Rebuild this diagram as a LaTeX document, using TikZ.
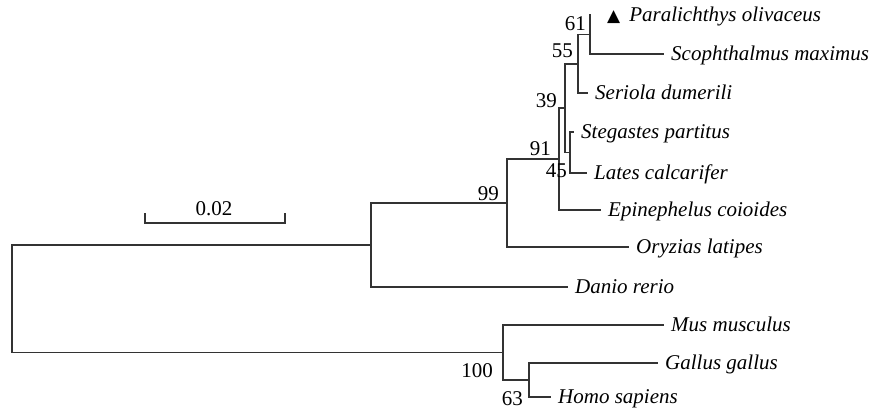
\documentclass[tikz,border=0pt]{standalone}
\usepackage{fontspec}
\setmainfont{Liberation Serif}
\newfontfamily\symfont{DejaVu Sans}
\usepackage{tikz}
\usetikzlibrary{positioning}
\tikzset{
    leaf/.style = {anchor=west, inner xsep=8bp, inner ysep=0pt,
                 text height=15bp, text depth=3bp,
                 font=\fontsize{21bp}{25bp}\selectfont\itshape},
    boot/.style = {anchor=base east, inner sep=0pt,
                 font=\fontsize{21bp}{25bp}\selectfont},
    branch/.style = {draw=black!80, line width=1.2bp, line cap=rect},
}

\begin{document}
\begin{tikzpicture}[x=1bp,y=-1bp]
\useasboundingbox (0,0) rectangle (875,414);
\coordinate (root) at (12,299);
\coordinate (nfi)  at (371,245);
\coordinate (n99)  at (507,203);
\coordinate (n91)  at (559,159);
\coordinate (n39)  at (565,108);
\coordinate (n55)  at (578,64);
\coordinate (n61)  at (590,34.5);
\coordinate (n45)  at (570,152.5);
\coordinate (n100) at (503,352.5);
\coordinate (n63)  at (529,380);
\node (par) [leaf,inner xsep=17bp] at (590,15) {{\symfont\upshape\fontsize{17bp}{17bp}\selectfont ▲}\hspace{9bp}Paralichthys olivaceus};
\node (sco) [leaf] at (663,54)  {Scophthalmus maximus};
\node (ser) [leaf] at (587,93)  {Seriola dumerili};
\node (ste) [leaf] at (573,132) {Stegastes partitus};
\node (lat) [leaf] at (586,173) {Lates calcarifer};
\node (epi) [leaf] at (600,210) {Epinephelus coioides};
\node (ory) [leaf] at (628,247) {Oryzias latipes};
\node (dan) [leaf] at (567,287) {Danio rerio};
\node (mus) [leaf] at (663,325) {Mus musculus};
\node (gal) [leaf] at (657,363) {Gallus gallus};
\node (hom) [leaf] at (550,397) {Homo sapiens};
\draw[branch] (n61) |- (par.west);
\draw[branch] (n61) |- (sco.west);
\draw[branch] (n55) |- (n61);
\draw[branch] (n55) |- (ser.west);
\draw[branch] (n45) |- (ste.west);
\draw[branch] (n45) |- (lat.west);
\draw[branch] (n39) |- (n55);
\draw[branch] (n39) |- (n45);
\draw[branch] (n91) |- (n39);
\draw[branch] (n91) |- (epi.west);
\draw[branch] (n99) |- (n91);
\draw[branch] (n99) |- (ory.west);
\draw[branch] (nfi) |- (n99);
\draw[branch] (nfi) |- (dan.west);
\draw[branch] (n63) |- (gal.west);
\draw[branch] (n63) |- (hom.west);
\draw[branch] (n100) |- (mus.west);
\draw[branch] (n100) |- (n63);
\draw[branch] (root) |- (nfi);
\draw[branch] (root) |- (n100);
\node (b61)  [boot] at (586,30)  {61};
\node (b55)  [boot] at (573,57)  {55};
\node (b39)  [boot] at (557,107) {39};
\node (b91)  [boot] at (551,155) {91};
\node (b45)  [boot] at (567,177) {45};
\node (b99)  [boot] at (499,200) {99};
\node (b100) [boot] at (493,377) {100};
\node (b63)  [boot] at (523,405) {63};
% scale bar
\coordinate (sbl)  at (145,223);
\coordinate (sbr)  at (285,223);
\coordinate (sblt) at (145,214);
\coordinate (sbrt) at (285,214);
\draw[branch] (sblt) -- (sbl) -- (sbr) -- (sbrt);
\node (sblab) [boot,anchor=base] at (214,215) {0.02};
\end{tikzpicture}
\end{document}
